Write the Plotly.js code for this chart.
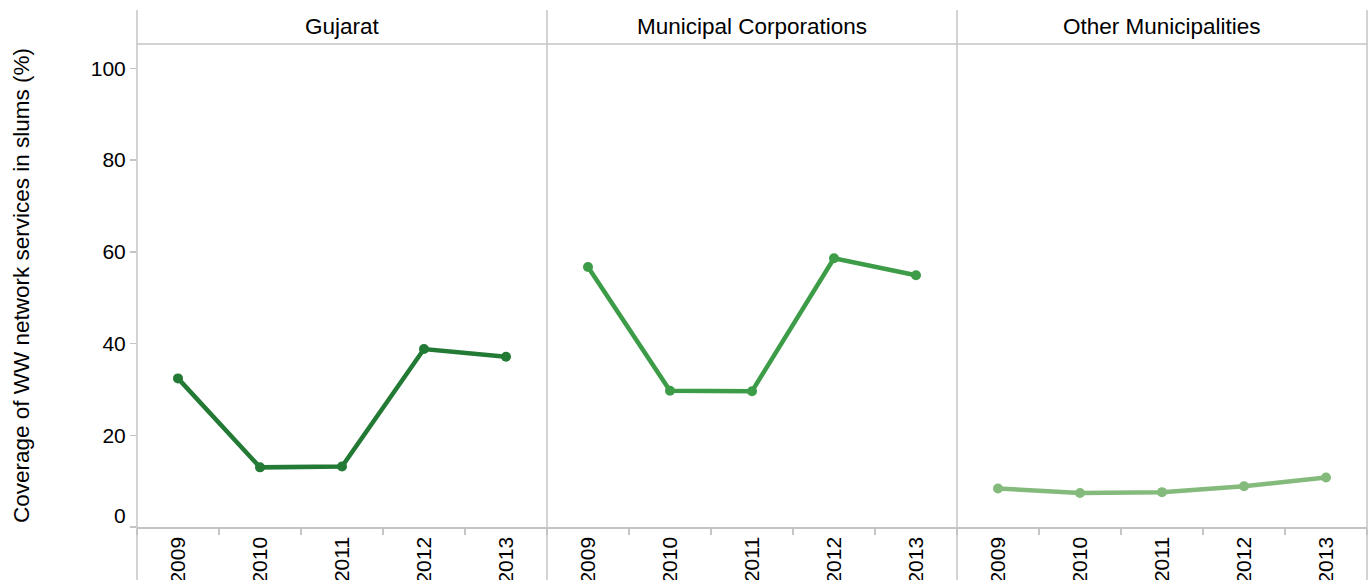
<!DOCTYPE html>
<html>
<head>
<meta charset="utf-8">
<script src="https://cdn.plot.ly/plotly-3.0.1.min.js"></script>
<style>html,body{margin:0;padding:0;background:#fff;}#chart{width:1372px;height:580px;}</style>
</head>
<body>
<div id="chart"></div>
<script>
// ---- data ----
const years = ["2009", "2010", "2011", "2012", "2013"];
const panels = ["Gujarat", "Municipal Corporations", "Other Municipalities"];
const gujarat = [32.4, 13.0, 13.2, 38.8, 37.1];
const municipalCorporations = [56.7, 29.7, 29.6, 58.6, 54.9];
const otherMunicipalities = [8.4, 7.4, 7.6, 8.9, 10.8];
const yTicks = [0, 20, 40, 60, 80, 100];
const yTitle = "Coverage of WW network services in slums (%)";

const series = [gujarat, municipalCorporations, otherMunicipalities];
const colors = ["#237a35", "#3d9c47", "#84ba7b"];

const W = 1372, H = 580;
const margin = {l: 137, r: 5, t: 44, b: 53};
const plotH = H - margin.t - margin.b;
const plotW = W - margin.l - margin.r;
const headerH = 34;
const FONT = "Liberation Sans, Arial, sans-serif";
const TITLE_SIZE = 22.5;
const TICK_SIZE = 21;
const gridColor = "#c4c4c4";

const traces = series.map((vals, i) => ({
  type: "scatter",
  mode: "lines+markers",
  x: years,
  y: vals,
  xaxis: i === 0 ? "x" : "x" + (i + 1),
  yaxis: "y",
  line: {color: colors[i], width: 4.5},
  marker: {color: colors[i], size: 10},
  hoverinfo: "x+y",
  showlegend: false
}));

const layout = {
  width: W, height: H,
  margin: margin,
  paper_bgcolor: "#fff",
  plot_bgcolor: "#fff",
  font: {family: FONT, size: TICK_SIZE, color: "#000"},
  showlegend: false,
  yaxis: {
    range: [0, 105.3],
    tickvals: yTicks,
    ticktext: yTicks.map(v => v === 0 ? "" : String(v)),
    ticks: "outside",
    ticklen: 6,
    tickcolor: gridColor,
    tickwidth: 1.5,
    showgrid: false,
    zeroline: false,
    showline: false,
    tickfont: {size: TICK_SIZE, family: FONT, color: "#000"},
    title: {text: yTitle, font: {size: TITLE_SIZE, family: FONT, color: "#000"}, standoff: 54},
    automargin: false,
    fixedrange: true
  },
  shapes: [],
  annotations: []
};

const domains = [[0, 1/3], [1/3, 2/3], [2/3, 1]];
domains.forEach((d, i) => {
  const key = i === 0 ? "xaxis" : "xaxis" + (i + 1);
  layout[key] = {
    domain: d,
    anchor: "y",
    type: "category",
    categoryorder: "array",
    categoryarray: years,
    range: [-0.5, 4.5],
    tickson: "boundaries",
    ticks: "outside",
    ticklen: 6,
    tickcolor: gridColor,
    tickwidth: 1.5,
    tickangle: -90,
    tickfont: {size: TICK_SIZE, family: FONT, color: "#000"},
    showgrid: false,
    zeroline: false,
    showline: true,
    linecolor: gridColor,
    linewidth: 1.5,
    automargin: false,
    fixedrange: true
  };
  layout.annotations.push({
    text: panels[i],
    xref: "paper", yref: "paper",
    x: (d[0] + d[1]) / 2,
    y: 1 + headerH / 2 / plotH,
    xanchor: "center", yanchor: "middle",
    showarrow: false,
    font: {size: TITLE_SIZE, family: FONT, color: "#000"}
  });
});

// header separator line
layout.shapes.push({
  type: "line", xref: "paper", yref: "paper",
  x0: 0, x1: 1, y0: 1, y1: 1,
  line: {color: gridColor, width: 1.5}
});
// panel dividers, running through header and tick-label band
[0, 1/3, 2/3, 1].forEach(x => {
  layout.shapes.push({
    type: "line", xref: "paper", yref: "paper",
    x0: x, x1: x,
    y0: 1 + headerH / plotH,
    y1: -(margin.b + 5) / plotH,
    line: {color: gridColor, width: 1.5}
  });
});
// extend bottom axis line to the left over the y tick
layout.shapes.push({
  type: "line", xref: "paper", yref: "y",
  x0: -6 / plotW, x1: 0, y0: 0, y1: 0,
  line: {color: gridColor, width: 1.5}
});
// "0" label, nudged up as in the original
layout.annotations.push({
  text: "0", xref: "paper", yref: "y",
  x: 0, y: 0, xanchor: "right", yanchor: "middle",
  xshift: -9, yshift: 12,
  showarrow: false,
  font: {size: TICK_SIZE, family: FONT, color: "#000"}
});

Plotly.newPlot("chart", traces, layout, {displayModeBar: false, staticPlot: true});
</script>
</body>
</html>
